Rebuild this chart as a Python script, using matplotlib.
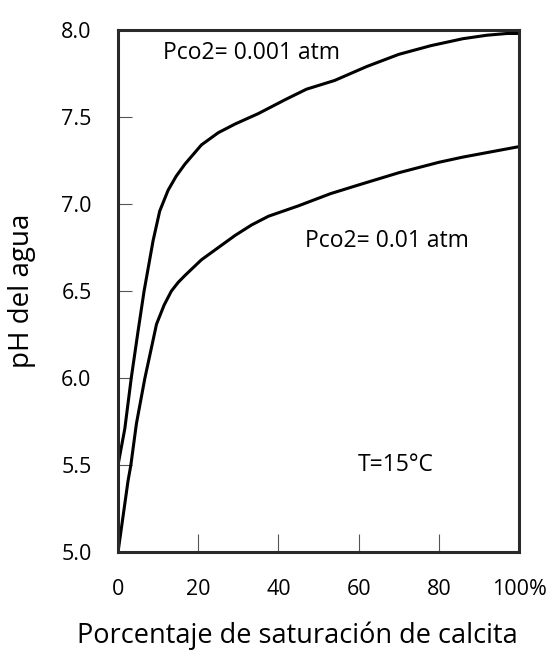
import matplotlib.pyplot as plt

plt.rcParams['font.family'] = ['Open Sans', 'DejaVu Sans']

# saturation (%) and pH values
sat_low_pco2 = [0, 1.7, 3.3, 5, 6.5, 8.75, 10.4, 12.5, 14.5, 16.7, 20.8, 25, 29.2, 35, 41.7,
                47, 54, 62, 70, 78, 86, 92, 97, 100]
ph_low_pco2 = [5.5, 5.71, 6.0, 6.27, 6.5, 6.79, 6.96, 7.08, 7.16, 7.23, 7.34, 7.41, 7.46, 7.52, 7.6,
               7.66, 7.71, 7.79, 7.86, 7.91, 7.95, 7.97, 7.98, 7.98]

sat_high_pco2 = [0, 2.5, 3.2, 4.6, 6.7, 9.6, 11.5, 13.3, 15, 16.7, 20.8, 25, 29.2, 33.3, 37.5, 45,
                 53, 60, 70, 80, 86, 93, 100]
ph_high_pco2 = [5.0, 5.41, 5.5, 5.74, 6.0, 6.31, 6.42, 6.5, 6.55, 6.59, 6.68, 6.75, 6.82, 6.88, 6.93, 6.99,
                7.06, 7.11, 7.18, 7.24, 7.27, 7.3, 7.33]

x_ticks = [0, 20, 40, 60, 80, 100]
x_labels = ['0', '20', '40', '60', '80', '100%']
y_ticks = [5.0, 5.5, 6.0, 6.5, 7.0, 7.5, 8.0]

fig = plt.figure(figsize=(5.54, 6.52), dpi=100)
ax = fig.add_axes([0.213, 0.153, 0.724, 0.801])

ax.plot(sat_low_pco2, ph_low_pco2, color='black', lw=2.2, solid_joinstyle='round')
ax.plot(sat_high_pco2, ph_high_pco2, color='black', lw=2.2, solid_joinstyle='round')

ax.set_xlim(0, 100)
ax.set_ylim(5.0, 8.0)
ax.set_xticks(x_ticks)
ax.set_xticklabels(x_labels)
ax.set_yticks(y_ticks)
ax.set_yticklabels(['%.1f' % v for v in y_ticks])

ax.tick_params(axis='x', direction='in', length=13, width=0.8, color='#555555',
               pad=19, labelsize=15.5)
ax.tick_params(axis='y', direction='in', length=10, width=0.8, color='#555555',
               pad=19, labelsize=15.5)
for s in ax.spines.values():
    s.set_linewidth(2.2)
    s.set_color('#2a2a2a')

ax.text(11.2, 7.87, 'Pco2= 0.001 atm', fontsize=16.5, va='center')
ax.text(46.7, 6.79, 'Pco2= 0.01 atm', fontsize=16.5, va='center')
ax.text(59.8, 5.5, 'T=15°C', fontsize=16.5, va='center')

ax.set_xlabel('Porcentaje de saturación de calcita', fontsize=19.5)
ax.xaxis.set_label_coords(0.446, -0.132)
ax.set_ylabel('pH del agua', fontsize=20, labelpad=18)

fig.savefig('out.png', dpi=100, facecolor='white')
